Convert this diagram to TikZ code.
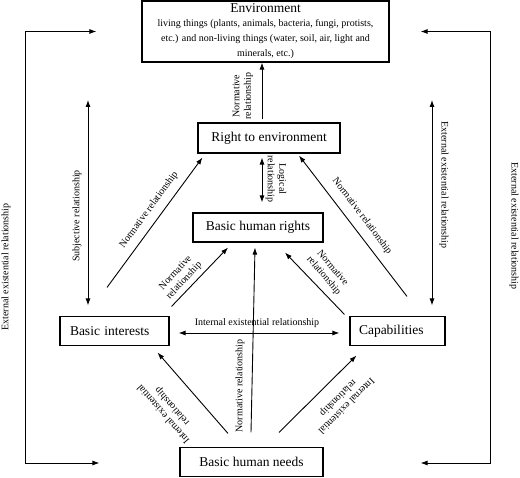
\documentclass[tikz,border=0pt]{standalone}
\usepackage{fontspec}
\setmainfont{Liberation Serif}
\usetikzlibrary{arrows.meta}
\newcommand\envsmall{\fontsize{10}{12}\selectfont}

\begin{document}
\begin{tikzpicture}[x=1pt, y=1pt,
	main/.style = {draw, line width=1.1pt, inner sep=0pt, font=\fontsize{13.5}{15}\selectfont},
	lab/.style = {align=center, inner sep=0pt, font=\fontsize{10}{11.5}\selectfont},
	arr/.style = {line width=0.9pt, -{Latex[length=7pt,width=5pt]}},
	dbl/.style = {line width=0.9pt, {Latex[length=7pt,width=5pt]}-{Latex[length=7pt,width=5pt]}}]
	\useasboundingbox (0,0) rectangle (520,478);
	\node[main, align=center, minimum width=247pt, minimum height=61pt] (env) at (265.5,446.5){Environment\\[-1pt]\envsmall living things (plants, animals, bacteria, fungi, protists,\\\envsmall etc.) and non-living things (water, soil, air, light and\\\envsmall minerals, etc.)};
	\node[main, minimum width=142pt, minimum height=30pt] (rte) at (269, 340){Right to environment};
	\node[main, minimum width=130pt, minimum height=29pt] (bhr) at (258, 250.5){Basic human rights};
	\node[main, align=left, text width=89pt, minimum width=109pt, minimum height=29pt] (bi) at (114.5, 147){Basic interests};
	\node[main, align=left, text width=77pt, minimum width=95pt, minimum height=29pt] (cap) at (397.5, 147){Capabilities};
	\node[main, minimum width=143pt, minimum height=29pt] (bhn) at (251.5, 16){Basic human needs};
	\coordinate (subj) at (88, 378);
	\coordinate (ext) at (432, 378);
	\coordinate (envL) at ([xshift=-45pt]env.west);
	\coordinate (envR) at ([xshift=31pt]env.east);
	\coordinate (bhnL) at ([shift={(-80,-1)}]bhn.west);
	\coordinate (bhnR) at ([shift={(97,-1)}]bhn.east);
	\draw[arr] ([shift={(-7,3)}]rte.north) -- ([xshift=-3.5pt]env.south);
	\draw[dbl] ([shift={(-7,-4)}]rte.south) -- ([shift={(4,10)}]bhr.north);
	\draw[arr] ([shift={(-7.5,28.5)}]bi.north) -- ([shift={(5,-4)}]rte.south west);
	\draw[arr] ([shift={(9.5,19.5)}]cap.north) -- ([shift={(30,-2)}]rte.south);
	\draw[arr] ([shift={(2,9.5)}]bi.north east) -- ([shift={(-30,-5)}]bhr.south);
	\draw[arr] ([shift={(-5,1.5)}]cap.north west) -- ([shift={(27,-10)}]bhr.south);
	\draw[arr] ([shift={(-0.5,14.5)}]bhn.north) -- ([shift={(-3,-5)}]bhr.south);
	\draw[dbl] ([shift={(9,-2)}]bi.east) -- ([shift={(-10,-2)}]cap.west);
	\draw[arr] ([shift={(-23.5,13.5)}]bhn.north) -- ([shift={(-12,-6.5)}]bi.south east);
	\draw[arr] ([shift={(27.5,14.5)}]bhn.north) -- ([shift={(7,-9.5)}]cap.south west);
	\draw[dbl] (subj) -- ([shift={(-26.5,10.5)}]bi.north);
	\draw[dbl] (ext) -- ([shift={(34.5,10.5)}]cap.north);
	\draw[dbl] (envL) -- ++(-71,0) |- (bhnL);
	\draw[dbl] (envR) -- ++(70,0) |- (bhnR);
	% labels
	\node[lab, rotate=90] (l1) at (243, 382){Normative\\relationship};
	\node[lab, rotate=-90] (l2) at (276, 299){Logical\\relationship};
	\node[lab, rotate=90] (l3) at (77, 262){Subjective relationship};
	\node[lab, rotate=-90] (l4) at (444, 293){External existential relationship};
	\node[lab, rotate=90] (l5) at (6, 211){External existential relationship};
	\node[lab, rotate=-90] (l6) at (514, 252){External existential relationship};
	\node[lab, rotate=54] (l7) at (149, 268){Normative relationship};
	\node[lab, rotate=-53] (l8) at (362, 262){Normative relationship};
	\node[lab, rotate=47] (l9) at (180, 201){Normative\\relationship};
	\node[lab, rotate=-50] (l10) at (328, 206){Normative\\relationship};
	\node[lab, rotate=90] (l11) at (240, 92){Normative relationship};
	\node[lab] (l12) at (257, 155){Internal existential relationship};
	\node[lab, rotate=131] (l13) at (168, 68){Internal existential\\relationship};
	\node[lab, rotate=225] (l14) at (342, 76){Internal existential\\relationship};
\end{tikzpicture}
\end{document}
